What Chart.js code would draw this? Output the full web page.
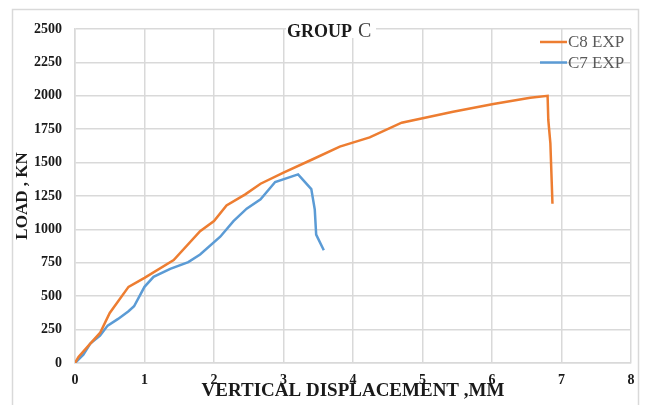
<!DOCTYPE html>
<html>
<head>
<meta charset="utf-8">
<script src="https://cdn.jsdelivr.net/npm/chart.js@4.4.1/dist/chart.umd.min.js"></script>
<style>
  html, body { margin: 0; padding: 0; background: #fff; }
  #wrap { width: 646px; height: 405px; position: relative; }
</style>
</head>
<body>
<div id="wrap"><canvas id="myChart"></canvas></div>
<script>
// Data
const c8Disp = [0, 0.05, 0.22, 0.36, 0.5, 0.77, 1.0, 1.42, 1.8, 2.0, 2.18, 2.45, 2.67, 3.0, 3.42, 3.81, 4.24, 4.7, 5.44, 6.02, 6.55, 6.8, 6.81, 6.84, 6.87];
const c8Load = [0, 45, 145, 225, 375, 570, 637, 770, 987, 1062, 1180, 1262, 1342, 1425, 1525, 1620, 1689, 1799, 1881, 1938, 1985, 2000, 1819, 1645, 1192];

const c7Disp = [0, 0.12, 0.22, 0.36, 0.47, 0.62, 0.77, 0.85, 1.0, 1.13, 1.37, 1.63, 1.8, 2.09, 2.28, 2.47, 2.67, 2.88, 3.21, 3.3, 3.4, 3.45, 3.47, 3.58];
const c7Load = [0, 62, 145, 205, 280, 330, 387, 425, 570, 645, 705, 755, 812, 945, 1062, 1155, 1225, 1355, 1412, 1360, 1302, 1148, 961, 844];

const xTicks = [0, 1, 2, 3, 4, 5, 6, 7, 8];
const yTicks = [0, 250, 500, 750, 1000, 1250, 1500, 1750, 2000, 2250, 2500];

const seriesNames = ['C8 EXP', 'C7 EXP'];
const seriesColors = ['#ed7d31', '#5b9bd5'];

const serif = "'Liberation Serif', 'Times New Roman', serif";

// outer frame, title box and legend drawn on the canvas
const decor = {
  id: 'decor',
  beforeDraw(chart) {
    const c = chart.ctx;
    c.save();
    c.strokeStyle = '#d9d9d9';
    c.lineWidth = 1.5;
    c.strokeRect(12.5, 9.5, 626, 420);
    c.restore();
  },
  afterDraw(chart) {
    const c = chart.ctx;
    c.save();
    // title
    c.fillStyle = '#fff';
    c.fillRect(286, 22, 90, 16);
    c.textBaseline = 'alphabetic';
    c.textAlign = 'left';
    c.font = 'bold 18px ' + serif;
    c.fillStyle = '#1a1a1a';
    c.fillText('GROUP', 287, 37);
    c.font = '20px ' + serif;
    c.fillStyle = '#404040';
    c.fillText('C', 358, 37);

    // legend
    c.font = '17px ' + serif;
    c.textBaseline = 'middle';
    seriesNames.forEach((name, i) => {
      const y = 42 + i * 20.5;
      c.strokeStyle = seriesColors[i];
      c.lineWidth = 2.5;
      c.beginPath();
      c.moveTo(540, y);
      c.lineTo(567, y);
      c.stroke();
      c.fillStyle = '#595959';
      c.fillText(name, 568, y + 1);
    });
    c.restore();
  }
};

const ctx = document.getElementById('myChart').getContext('2d');
const myChart = new Chart(ctx, {
  type: 'scatter',
  data: {
    datasets: [
      {
        label: seriesNames[0],
        data: c8Disp.map((x, i) => ({ x: x, y: c8Load[i] })),
        borderColor: seriesColors[0],
        backgroundColor: seriesColors[0],
        borderWidth: 2.5,
        showLine: true,
        pointRadius: 0,
        tension: 0
      },
      {
        label: seriesNames[1],
        data: c7Disp.map((x, i) => ({ x: x, y: c7Load[i] })),
        borderColor: seriesColors[1],
        backgroundColor: seriesColors[1],
        borderWidth: 2.5,
        showLine: true,
        pointRadius: 0,
        tension: 0
      }
    ]
  },
  options: {
    responsive: true,
    maintainAspectRatio: false,
    animation: false,
    layout: { padding: { left: 0, top: 29, right: 15, bottom: 0 } },
    plugins: {
      legend: { display: false },
      tooltip: { enabled: false }
    },
    scales: {
      x: {
        type: 'linear',
        min: 0,
        max: 8,
        afterBuildTicks: axis => { axis.ticks = xTicks.map(v => ({ value: v })); },
        afterFit: axis => { axis.height = 42; },
        grid: { color: '#d9d9d9', lineWidth: 1.5, drawTicks: false },
        border: { color: '#d9d9d9', width: 1.5 },
        ticks: {
          padding: 9,
          color: '#1a1a1a',
          font: { family: serif, size: 14, weight: 'bold' },
          callback: v => String(v)
        },
        title: {
          display: true,
          text: 'VERTICAL DISPLACEMENT ,MM',
          color: '#1a1a1a',
          font: { family: serif, size: 19, weight: 'bold' },
          padding: { top: 0, bottom: 3 }
        }
      },
      y: {
        type: 'linear',
        min: 0,
        max: 2500,
        afterBuildTicks: axis => { axis.ticks = yTicks.map(v => ({ value: v })); },
        afterFit: axis => { axis.width = 75; },
        grid: { color: '#d9d9d9', lineWidth: 1.5, drawTicks: false },
        border: { color: '#d9d9d9', width: 1.5 },
        ticks: {
          padding: 13,
          color: '#1a1a1a',
          font: { family: serif, size: 14, weight: 'bold' },
          callback: v => String(v)
        },
        title: {
          display: true,
          text: 'LOAD , KN',
          color: '#1a1a1a',
          font: { family: serif, size: 17, weight: 'bold' },
          padding: { top: 12, bottom: 0 }
        }
      }
    }
  },
  plugins: [decor]
});
</script>
</body>
</html>
